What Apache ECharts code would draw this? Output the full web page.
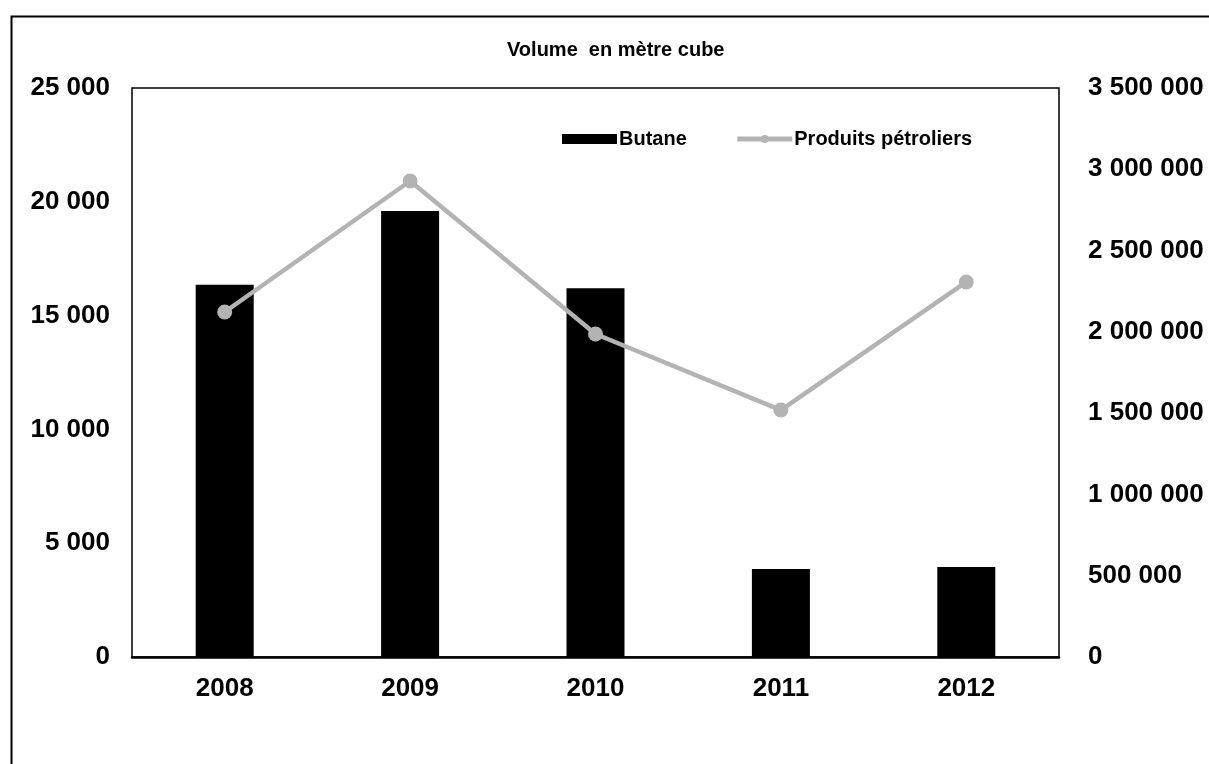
<!DOCTYPE html>
<html><head><meta charset="utf-8">
<script src="https://cdn.jsdelivr.net/npm/echarts@6/dist/echarts.min.js"></script>
<style>html,body{margin:0;padding:0;background:#fff}#c{width:1209px;height:764px}</style>
</head><body><div id="c"></div>
<script>
const categories = ['2008','2009','2010','2011','2012'];
const butane = [16350, 19600, 16200, 3870, 3950];
const produitsPetroliers = [2122000, 2928000, 1987000, 1519000, 2307000];
const leftTicks = [0, 5000, 10000, 15000, 20000, 25000];
const rightTicks = [0, 500000, 1000000, 1500000, 2000000, 2500000, 3000000, 3500000];

const fmt = v => String(v).replace(/\B(?=(\d{3})+(?!\d))/g, ' ');
const font = 'Liberation Sans, Arial, sans-serif';
const chart = echarts.init(document.getElementById('c'));
chart.setOption({
  animation: false,
  backgroundColor: '#fff',
  graphic: [{
    type: 'rect', left: 9, top: 14,
    shape: { width: 1300, height: 800 },
    style: { fill: 'none', stroke: '#000', lineWidth: 2 }, z: 100
  }],
  title: {
    text: 'Volume  en mètre cube', left: 502, top: 35,
    textStyle: { fontFamily: font, fontWeight: 'bold', fontSize: 20, color: '#000' }
  },
  legend: {
    top: 124, left: 557, itemGap: 48, itemWidth: 55, itemHeight: 10,
    textStyle: { fontFamily: font, fontWeight: 'bold', fontSize: 20, color: '#000', padding: [0,0,0,-3] },
    data: [
      { name: 'Butane', icon: 'rect' },
      { name: 'Produits pétroliers', lineStyle: { width: 5, color: '#b3b3b3' } }
    ]
  },
  grid: {
    left: 132, right: 150, top: 88, bottom: 107,
    show: true, borderColor: '#000', borderWidth: 1.5, containLabel: false
  },
  xAxis: {
    type: 'category', data: categories,
    axisLine: { lineStyle: { color: '#000', width: 2.5 } },
    axisTick: { show: false },
    axisLabel: { fontFamily: font, fontWeight: 'bold', fontSize: 26, color: '#000', margin: 19 }
  },
  yAxis: [{
    type: 'value', min: 0, max: 25000, interval: 5000,
    axisLine: { show: false }, axisTick: { show: false }, splitLine: { show: false },
    axisLabel: { fontFamily: font, fontWeight: 'bold', fontSize: 26, color: '#000', margin: 22, formatter: fmt }
  }, {
    type: 'value', min: 0, max: 3500000, interval: 500000, position: 'right',
    axisLine: { show: false }, axisTick: { show: false }, splitLine: { show: false },
    axisLabel: { fontFamily: font, fontWeight: 'bold', fontSize: 26, color: '#000', margin: 29, formatter: fmt }
  }],
  series: [{
    name: 'Butane', type: 'bar', data: butane, barWidth: 58,
    itemStyle: { color: '#000' }
  }, {
    name: 'Produits pétroliers', type: 'line', yAxisIndex: 1, data: produitsPetroliers,
    symbol: 'circle', symbolSize: 15,
    lineStyle: { color: '#b3b3b3', width: 4.5 },
    itemStyle: { color: '#b3b3b3' }
  }]
});
</script></body></html>
